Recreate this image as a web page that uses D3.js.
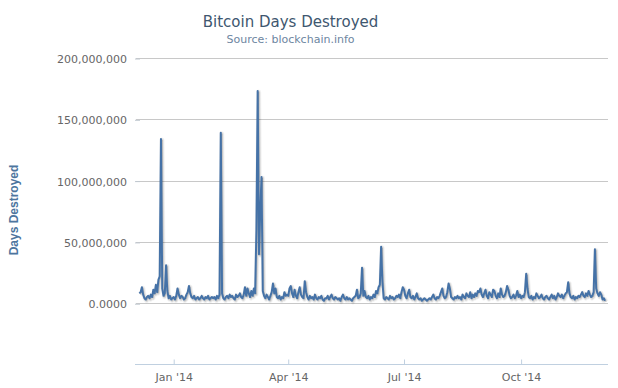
<!DOCTYPE html>
<html><head><meta charset="utf-8">
<script src="https://cdn.jsdelivr.net/npm/d3@7"></script>
<style>html,body{margin:0;padding:0;background:#fff;}svg{display:block;}</style>
</head><body>
<svg id="chart" width="618" height="388"></svg>
<script>
// Daily "days destroyed" values, in millions, starting 2013-12-05
const startDate = "2013-12-05";
const dec2013 = [8,9,13,7,4,3,5,6,4,7,5,11,8,15,9,19,22,134,12,6,8,31,10,4,6,3,4];
const jan2014 = [5,3,6,12,7,4,6,5,3,4,7,9,14,8,5,4,6,3,4,5,3,4,6,4,3,5,4,6,3,4,5];
const feb2014 = [4,5,3,6,4,7,139,8,4,3,5,6,4,7,5,6,4,3,7,5,6,8,5,4,7,13,6,12];
const mar2014 = [8,5,10,6,12,8,60,173,40,75,103,10,6,4,7,5,3,6,9,16,8,12,5,4,6,3,5,4,9,6,7];
const apr2014 = [6,12,14,8,5,11,6,4,9,13,7,5,4,18,9,5,3,6,4,5,3,7,4,3,5,4,6,3,2,4];
const may2014 = [4,6,3,5,7,4,3,5,4,3,4,2,5,7,4,3,5,3,4,3,2,4,5,6,11,4,5,8,29,6,10];
const jun2014 = [5,4,6,3,5,4,7,5,10,8,13,15,46,18,4,3,5,4,3,6,4,5,3,4,6,5,7,4,9,13];
const jul2014 = [11,6,4,8,11,5,4,6,3,5,8,4,3,4,2,3,4,3,2,3,4,3,5,7,4,3,5,4,6,9,12];
const aug2014 = [6,4,5,9,16,12,5,4,3,5,4,6,4,5,3,7,5,4,8,6,5,9,4,7,5,8,6,10,9,12,7];
const sep2014 = [5,8,11,6,4,9,7,5,11,10,6,4,8,5,12,7,5,6,9,14,11,6,4,5,7,4,6,10,5,7];
const oct2014 = [4,6,5,9,24,12,5,4,6,3,5,4,8,6,4,5,7,4,3,5,6,4,3,5,7,4,6,3,5,8,6];
const nov2014 = [5,7,4,6,8,9,17,8,5,4,6,3,5,4,6,5,7,9,6,5,8,6,10,7,5,6,9,44,12,8];
const dec2014 = [6,9,7,3,4,2];

const xTickDates = ["2014-01-01","2014-04-01","2014-07-01","2014-10-01"];
const xTickLabels = ["Jan '14","Apr '14","Jul '14","Oct '14"];
const yTickValues = [0,50,100,150,200];
const yTickLabels = ["0.0000","50,000,000","100,000,000","150,000,000","200,000,000"];

const titleText = "Bitcoin Days Destroyed";
const subtitleText = "Source: blockchain.info";
const yAxisTitle = "Days Destroyed";

const values = [].concat(dec2013,jan2014,feb2014,mar2014,apr2014,may2014,jun2014,jul2014,aug2014,sep2014,oct2014,nov2014,dec2014);
const parse = d3.utcParse("%Y-%m-%d");
const t0 = parse(startDate);
const data = values.map((v,i)=>({date:d3.utcDay.offset(t0,i), value:v}));

const svg = d3.select("#chart");
const plotLeft = 135, plotRight = 608, plotTop = 58, plotBottom = 364.5;

// x scale calibrated from tick positions
const cal = d3.scaleUtc().domain([parse(xTickDates[0]), parse(xTickDates[3])]).range([173.7, 521.1]);
const x = d3.scaleUtc().domain([cal.invert(plotLeft), cal.invert(plotRight)]).range([plotLeft, plotRight]);
const y = d3.scaleLinear().domain([-50,200]).range([plotBottom, plotTop]);

const font = "'DejaVu Sans', Verdana, sans-serif";

// gridlines
svg.append("g").selectAll("line").data(yTickValues).join("line")
  .attr("x1", plotLeft+1).attr("x2", plotRight)
  .attr("y1", d=>Math.round(y(d))+0.5).attr("y2", d=>Math.round(y(d))+0.5)
  .attr("stroke","#c8c8c8").attr("stroke-width",1);

// y axis
const yAxis = d3.axisLeft(y).tickValues(yTickValues).tickSize(5).tickPadding(8)
  .tickFormat((d,i)=>yTickLabels[i]);
const gy = svg.append("g").attr("transform",`translate(${plotLeft+5},0.5)`).call(yAxis);
gy.select(".domain").remove();
gy.selectAll(".tick line").attr("stroke","#c0c8d0");
gy.selectAll(".tick text").attr("fill","#666").style("font-family",font).style("font-size","11px")
  .attr("dy","0.36em").attr("x",-13);

// x axis
const xAxis = d3.axisBottom(x).tickValues(xTickDates.map(parse)).tickSize(5).tickPadding(4)
  .tickFormat((d,i)=>xTickLabels[i]);
const gx = svg.append("g").attr("transform",`translate(0,${Math.round(plotBottom)-0.5})`).call(xAxis);
gx.select(".domain").attr("stroke","#c0d0e0").attr("d",`M${plotLeft},0H${plotRight}`);
gx.selectAll(".tick line").attr("stroke","#c0d0e0").attr("y1",-5).attr("y2",0);
gx.selectAll(".tick text").attr("fill","#666").style("font-family",font).style("font-size","11px").attr("y",9);

// line with Highcharts-like shadow
const line = d3.line().x(d=>x(d.date)).y(d=>y(d.value));
const shadows = [[5,0.05],[3,0.1],[1,0.15]];
shadows.forEach(([w,o])=>{
  svg.append("path").datum(data).attr("d",line).attr("fill","none")
    .attr("stroke","#000").attr("stroke-opacity",o).attr("stroke-width",w)
    .attr("stroke-linejoin","round").attr("transform","translate(1,1)");
});
svg.append("path").datum(data).attr("d",line).attr("fill","none")
  .attr("stroke","#4572A7").attr("stroke-width",2).attr("stroke-linejoin","round");

// titles
svg.append("text").attr("x",290.5).attr("y",27).attr("text-anchor","middle")
  .attr("fill","#3E576F").style("font-family",font).style("font-size","15px").text(titleText);
svg.append("text").attr("x",290.5).attr("y",43).attr("text-anchor","middle")
  .attr("fill","#6D869F").style("font-family",font).style("font-size","11px").text(subtitleText);
svg.append("text").attr("transform","translate(17.5,210) rotate(-90)").attr("text-anchor","middle")
  .attr("fill","#4d759e").style("font-family","'Liberation Sans', Arial, sans-serif")
  .style("font-size","12px").style("font-weight","bold").text(yAxisTitle);
</script>
</body></html>
